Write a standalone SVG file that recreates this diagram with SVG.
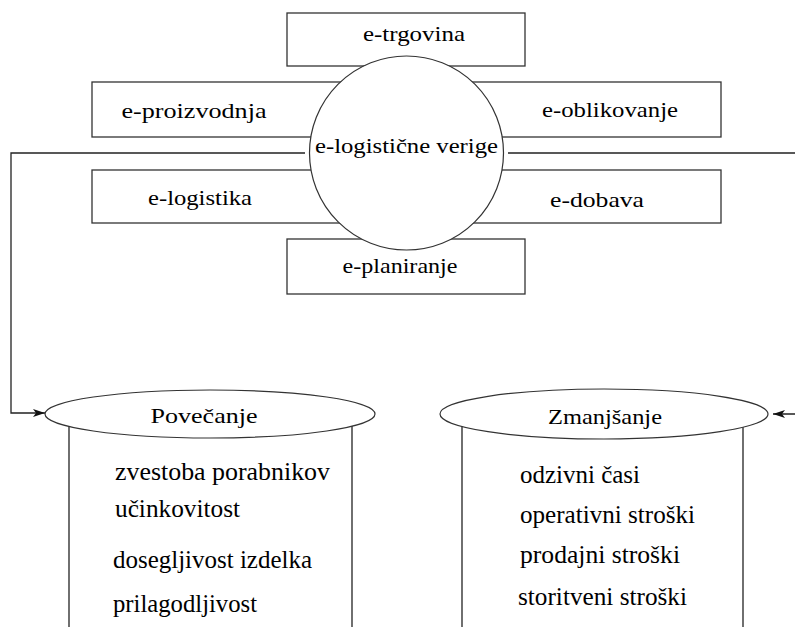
<svg xmlns="http://www.w3.org/2000/svg" width="795" height="627" viewBox="0 0 795 627">
<style>
.box{fill:#fff;stroke:#333;stroke-width:1.3}
.circ{fill:#fff;stroke:#333;stroke-width:1.2}
.line{fill:none;stroke:#222;stroke-width:1.3}
.lbl{font-size:22px;fill:#000;text-anchor:middle}
.item{font-size:25px;fill:#000}
</style>
<defs>
<marker id="arr" markerUnits="userSpaceOnUse" markerWidth="13" markerHeight="10" refX="12" refY="5" orient="auto">
<path d="M0,1 L12,5 L0,9 L3,5 Z" fill="#111"/>
</marker>
</defs>
<g font-family="'Liberation Serif', 'Times New Roman', Tinos, 'DejaVu Serif', serif">
<g id="e-trgovina"><rect class="box" x="287" y="13" width="238" height="53"/><text class="lbl" x="414" y="41" textLength="102" lengthAdjust="spacingAndGlyphs">e-trgovina</text></g>
<g id="e-proizvodnja"><rect class="box" x="92" y="82" width="250" height="55"/><text class="lbl" x="194" y="118" textLength="145" lengthAdjust="spacingAndGlyphs">e-proizvodnja</text></g>
<g id="e-logistika"><rect class="box" x="92" y="170" width="250" height="53"/><text class="lbl" x="200" y="205" textLength="104" lengthAdjust="spacingAndGlyphs">e-logistika</text></g>
<g id="e-planiranje"><rect class="box" x="287" y="239" width="238" height="55"/><text class="lbl" x="400" y="273" textLength="115" lengthAdjust="spacingAndGlyphs">e-planiranje</text></g>
<g id="e-oblikovanje"><rect class="box" x="470" y="82" width="251" height="55"/><text class="lbl" x="610" y="117" textLength="136" lengthAdjust="spacingAndGlyphs">e-oblikovanje</text></g>
<g id="e-dobava"><rect class="box" x="470" y="170" width="251" height="53"/><text class="lbl" x="597" y="207" textLength="94" lengthAdjust="spacingAndGlyphs">e-dobava</text></g>
<g id="e-logisticne-verige"><circle class="circ" cx="406.5" cy="153" r="97"/><text class="lbl" x="406.5" y="153" textLength="183" lengthAdjust="spacingAndGlyphs">e-logistične verige</text></g>
<g id="connectors">
<path class="line" d="M305,153 H11 V413 H45" marker-end="url(#arr)"/>
<path class="line" d="M508,153 H797 V414 H773" marker-end="url(#arr)"/>
</g>
<g id="povecanje">
<line class="line" x1="69" y1="414" x2="69" y2="628"/>
<line class="line" x1="352" y1="414" x2="352" y2="628"/>
<ellipse class="circ" cx="210" cy="414" rx="165" ry="24"/>
<text class="lbl" x="204" y="423" textLength="107" lengthAdjust="spacingAndGlyphs">Povečanje</text>
<text class="item" x="115" y="480" textLength="215" lengthAdjust="spacingAndGlyphs">zvestoba porabnikov</text>
<text class="item" x="115" y="517" textLength="125" lengthAdjust="spacingAndGlyphs">učinkovitost</text>
<text class="item" x="113" y="568" textLength="199" lengthAdjust="spacingAndGlyphs">dosegljivost izdelka</text>
<text class="item" x="113" y="612" textLength="144" lengthAdjust="spacingAndGlyphs">prilagodljivost</text>
</g>
<g id="zmanjsanje">
<line class="line" x1="462" y1="414" x2="462" y2="628"/>
<line class="line" x1="743" y1="414" x2="743" y2="628"/>
<ellipse class="circ" cx="604" cy="414" rx="164" ry="25"/>
<text class="lbl" x="605" y="424" textLength="114" lengthAdjust="spacingAndGlyphs">Zmanjšanje</text>
<text class="item" x="520" y="483" textLength="120" lengthAdjust="spacingAndGlyphs">odzivni časi</text>
<text class="item" x="520" y="523" textLength="175" lengthAdjust="spacingAndGlyphs">operativni stroški</text>
<text class="item" x="520" y="563" textLength="160" lengthAdjust="spacingAndGlyphs">prodajni stroški</text>
<text class="item" x="518" y="605" textLength="169" lengthAdjust="spacingAndGlyphs">storitveni stroški</text>
</g>
</g>
</svg>
